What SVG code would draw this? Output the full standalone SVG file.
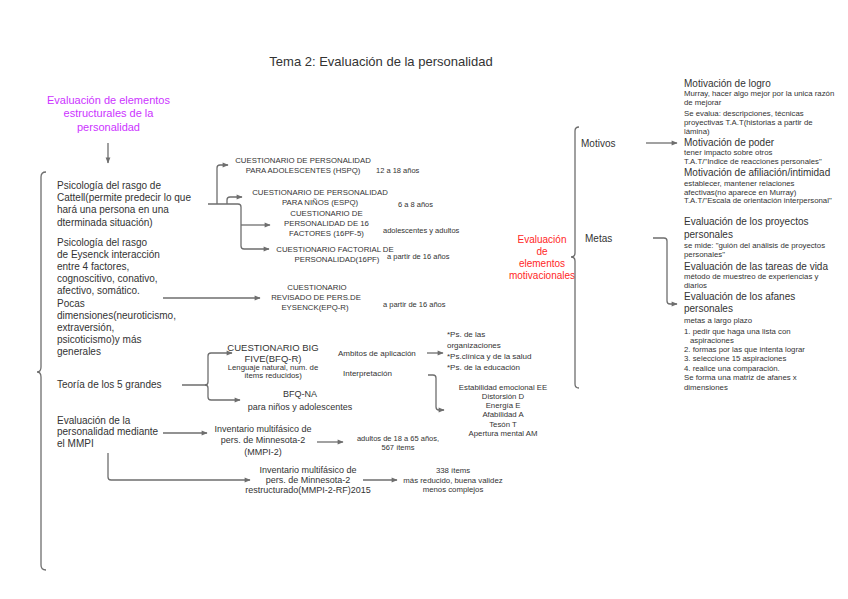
<svg xmlns="http://www.w3.org/2000/svg" width="848" height="599" viewBox="0 0 848 599">
<style>
text{font-family:"Liberation Sans",Arial,sans-serif;fill:#333}
.t13{font-size:13px}
.t11{font-size:11px}
.t10{font-size:10px}
.t9{font-size:9px}
.t95{font-size:9.5px}
.t8{font-size:8px}
.t78{font-size:7.8px}
.t75{font-size:7.5px}
.c{text-anchor:middle}
.mag{fill:#cc33ff}
.red{fill:#ff2626}
.ln{fill:none;stroke:#6e6e6e;stroke-width:1.3}
.ar{marker-end:url(#ah)}
.br{fill:none;stroke:#6e6e6e;stroke-width:1.3}
</style>
<defs>
<marker id="ah" viewBox="0 0 10 10" refX="9" refY="5" markerWidth="8" markerHeight="6" markerUnits="userSpaceOnUse" orient="auto">
<path d="M0,1 L10,5 L0,9 z" fill="#6e6e6e"/>
</marker>
</defs>
<rect width="848" height="599" fill="#fff"/>

<g id="title"><text class="t13 c" x="381" y="66">Tema 2: Evaluación de la personalidad</text></g>

<g id="estructurales"><text class="t11 c mag" x="108.5" y="103.5">Evaluación de elementos<tspan x="108.5" y="117">estructurales de la</tspan><tspan x="108.5" y="130.5">personalidad</tspan></text></g>

<g id="brace-left"><path class="br" d="M46,172 Q41,172 41,177 L41,367 Q41,372 37,372 Q41,372 41,377 L41,565 Q41,570 46,570"/></g>

<g id="cattell"><text class="t10" x="57" y="188.5">Psicología del rasgo de<tspan x="57" y="201">Cattell(permite predecir lo que</tspan><tspan x="57" y="213.3">hará una persona en una</tspan><tspan x="57" y="225.6">dterminada situación)</tspan></text></g>

<g id="eysenck"><text class="t10" x="57" y="245.5">Psicología del rasgo<tspan x="57" y="257.7">de Eysenck interacción</tspan><tspan x="57" y="269.9">entre 4 factores,</tspan><tspan x="57" y="282.1">cognoscitivo, conativo,</tspan><tspan x="57" y="294.3">afectivo, somático.</tspan><tspan x="57" y="306.5">Pocas</tspan><tspan x="57" y="318.7">dimensiones(neuroticismo,</tspan><tspan x="57" y="330.9">extraversión,</tspan><tspan x="57" y="343.1">psicoticismo)y más</tspan><tspan x="57" y="355.3">generales</tspan></text></g>

<g id="cinco"><text class="t10" x="57" y="387.5">Teoría de los 5 grandes</text></g>

<g id="mmpi"><text class="t10" x="57" y="423.5">Evaluación de la<tspan x="57" y="435.2">personalidad mediante</tspan><tspan x="57" y="446.9">el MMPI</tspan></text></g>

<g id="hspq"><text class="t78 c" x="303" y="163">CUESTIONARIO DE PERSONALIDAD<tspan x="303" y="173">PARA ADOLESCENTES (HSPQ)</tspan></text><text class="t75" x="376" y="172.5">12 a 18 años</text></g>

<g id="espq"><text class="t78 c" x="320" y="194.5">CUESTIONARIO DE PERSONALIDAD<tspan x="320" y="204.5">PARA NIÑOS (ESPQ)</tspan></text><text class="t75" x="398" y="207">6 a 8 años</text></g>

<g id="pf5"><text class="t78 c" x="326.5" y="216">CUESTIONARIO DE<tspan x="326.5" y="226">PERSONALIDAD DE 16</tspan><tspan x="326.5" y="236">FACTORES (16PF-5)</tspan></text><text class="t75" x="383" y="233">adolescentes y adultos</text></g>

<g id="pf16"><text class="t78 c" x="335" y="252">CUESTIONARIO FACTORIAL DE<tspan x="337" y="262">PERSONALIDAD(16PF)</tspan></text><text class="t75" x="387" y="259">a partir de 16 años</text></g>

<g id="epqr"><text class="t78 c" x="317" y="290">CUESTIONARIO<tspan x="316" y="300">REVISADO DE PERS.DE</tspan><tspan x="315" y="310">EYSENCK(EPQ-R)</tspan></text><text class="t75" x="383" y="307">a partir de 16 años</text></g>

<g id="bfqr"><text class="t95 c" x="273" y="351">CUESTIONARIO BIG<tspan x="273" y="362">FIVE(BFQ-R)</tspan></text><text class="t78 c" x="273" y="369.5">Lenguaje natural, num. de<tspan x="273" y="378">ítems reducidos)</tspan></text></g>

<g id="ambitos-label"><text class="t8" x="338" y="356">Ambitos de aplicación</text></g>
<g id="interp-label"><text class="t8" x="343" y="376">Interpretación</text></g>

<g id="bfqna"><text class="t9 c" x="300" y="397">BFQ-NA<tspan x="300" y="410">para niños y adolescentes</tspan></text></g>

<g id="ambitos"><text class="t8" x="447" y="337">*Ps. de las<tspan x="447" y="348">organizaciones</tspan><tspan x="447" y="358.5">*Ps.clínica y de la salud</tspan><tspan x="447" y="370">*Ps. de la educación</tspan></text></g>

<g id="dimensiones"><text class="t78 c" x="503" y="389.5">Estabilidad emocional EE<tspan x="503" y="398.8">Distorsión D</tspan><tspan x="503" y="408">Energía E</tspan><tspan x="503" y="417.3">Afabilidad A</tspan><tspan x="503" y="426.6">Tesón T</tspan><tspan x="503" y="436">Apertura mental AM</tspan></text></g>

<g id="mmpi2"><text class="t9 c" x="263" y="431.5">Inventario multifásico de<tspan x="263" y="443">pers. de Minnesota-2</tspan><tspan x="263" y="454.5">(MMPI-2)</tspan></text></g>

<g id="mmpi2-info"><text class="t75 c" x="398" y="441">adultos de 18 a 65 años,<tspan x="398" y="449.5">567 ítems</tspan></text></g>

<g id="mmpi2rf"><text class="t9 c" x="308" y="472.5">Inventario multifásico de<tspan x="308" y="482.5">pers. de Minnesota-2</tspan><tspan x="308" y="493">restructurado(MMPI-2-RF)2015</tspan></text></g>

<g id="mmpi2rf-info"><text class="t78 c" x="453" y="472.5">338 ítems<tspan x="453" y="482.5">más reducido, buena validez</tspan><tspan x="453" y="492">menos complejos</tspan></text></g>

<g id="motivacionales"><text class="t10 c red" x="542" y="243">Evaluación<tspan x="542" y="255">de</tspan><tspan x="542" y="267">elementos</tspan><tspan x="542" y="279">motivacionales</tspan></text></g>

<g id="brace-right"><path class="br" d="M579,127 Q575,127 575,131 L575,253 Q575,257 571,257 Q575,257 575,261 L575,384 Q575,388 579,388"/></g>

<g id="motivos"><text class="t10" x="581" y="147">Motivos</text></g>
<g id="metas"><text class="t10" x="585" y="242">Metas</text></g>

<g id="motivos-detalle"><text class="t10" x="684" y="87">Motivación de logro</text>
<text class="t78" x="684" y="96">Murray, hacer algo mejor por la unica razón<tspan x="684" y="105">de mejorar</tspan><tspan x="684" y="116">Se evalua: descripciones, técnicas</tspan><tspan x="684" y="125">proyectivas T.A.T(historias a partir de</tspan><tspan x="684" y="133.5">lámina)</tspan></text>
<text class="t10" x="684" y="146">Motivación de poder</text>
<text class="t78" x="684" y="155">tener impacto sobre otros<tspan x="684" y="164">T.A.T/"Indice de reacciones personales"</tspan></text>
<text class="t10" x="684" y="176">Motivación de afiliación/intimidad</text>
<text class="t78" x="684" y="186">establecer, mantener relaciones<tspan x="684" y="194.5">afectivas(no aparece en Murray)</tspan><tspan x="684" y="203">T.A.T/"Escala de orientación interpersonal"</tspan></text></g>

<g id="metas-detalle"><text class="t10" x="684" y="225">Evaluación de los proyectos<tspan x="684" y="238">personales</tspan></text>
<text class="t78" x="684" y="248">se mide: "guión del análisis de proyectos<tspan x="684" y="256.5">personales"</tspan></text>
<text class="t10" x="684" y="270">Evaluación de las tareas de vida</text>
<text class="t78" x="684" y="279">método de muestreo de experiencias y<tspan x="684" y="287.5">diarios</tspan></text>
<text class="t10" x="684" y="300">Evaluación de los afanes<tspan x="684" y="312">personales</tspan></text>
<text class="t78" x="684" y="323">metas a largo plazo<tspan x="684" y="334">1. pedir que haga una lista con</tspan><tspan x="690" y="342.5">aspiraciones</tspan><tspan x="684" y="352">2. formas por las que intenta lograr</tspan><tspan x="684" y="361">3. seleccione 15 aspiraciones</tspan><tspan x="684" y="371">4. realice una comparación.</tspan><tspan x="684" y="380">Se forma una matriz de afanes x</tspan><tspan x="684" y="390">dimensiones</tspan></text></g>

<g id="connectors">
<path class="ln ar" d="M108,143 L108,163"/>
<path class="ln" d="M208,204 L238,204 Q241,204 241,207 L241,246"/>
<path class="ln ar" d="M217,204 L217,168 Q217,165 220,165 L228,165"/>
<path class="ln ar" d="M227,204 L227,200 Q227,197 230,197 L242,197"/>
<path class="ln ar" d="M241,225 L270,225"/>
<path class="ln ar" d="M241,246 Q241,249 244,249 L269,249"/>
<path class="ln ar" d="M163,298 L260,298"/>
<path class="ln ar" d="M182,385 L205,385 Q208,385 208,382 L208,356 Q208,353 211,353 L232,353"/>
<path class="ln ar" d="M205,385 Q208,385 208,388 L208,397 Q208,400 211,400 L240,400"/>
<path class="ln ar" d="M427,353 L443,353"/>
<path class="ln ar" d="M428,375 L433,375 Q436,375 436,378 L436,407 Q436,410 439,410 L444,410"/>
<path class="ln ar" d="M163,433 L207,433"/>
<path class="ln ar" d="M317,442 L343,442"/>
<path class="ln ar" d="M108,453 L108,477 Q108,480 111,480 L250,480"/>
<path class="ln ar" d="M363,480 L397,480"/>
<path class="ln ar" d="M646,143 L677,143"/>
<path class="ln ar" d="M653,238 L664,238 Q667,238 667,241 L667,301 Q667,304 670,304 L677,304"/>
</g>
</svg>
